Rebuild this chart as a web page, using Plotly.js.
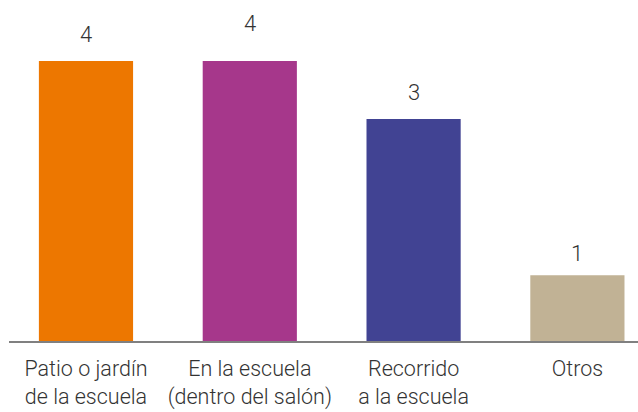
<!DOCTYPE html>
<html>
<head>
<meta charset="utf-8">
<script src="https://cdn.plot.ly/plotly-3.0.1.min.js"></script>
<style>html,body{margin:0;padding:0;background:#fff;}#chart{width:638px;height:412px;}</style>
</head>
<body>
<div id="chart"></div>
<script>
const categories = ["Patio o jardín<br>de la escuela", "En la escuela<br>(dentro del salón)", "Recorrido<br>a la escuela", "Otros"];
const values = [4, 4, 3.17, 0.94];
const labels = ["4", "4", "3", "1"];
const colors = ["#ED7700", "#A6378B", "#414393", "#C1B295"];
const labelShift = [12, 23, 12, 7];

const trace = {
  type: "bar",
  x: categories,
  y: values,
  marker: {color: colors},
  hoverinfo: "none"
};

const annotations = categories.map((c, i) => ({
  x: c, y: values[i], text: labels[i], showarrow: false,
  yanchor: "bottom", yshift: labelShift[i],
  font: {family: "Roboto, sans-serif", size: 22, color: "#333", weight: 300}
}));

const layout = {
  width: 638, height: 412,
  margin: {l: 9, r: 0, t: 0, b: 71},
  paper_bgcolor: "#fff", plot_bgcolor: "#fff",
  bargap: 0.425,
  showlegend: false,
  xaxis: {
    type: "category",
    range: [-0.47, 3.37],
    showline: true, linecolor: "#808080", linewidth: 2,
    showgrid: false, zeroline: false,
    ticks: "", ticklabelstandoff: 7,
    tickfont: {family: "Roboto, sans-serif", size: 21.5, color: "#333", weight: 300},
    fixedrange: true
  },
  yaxis: {
    range: [0, 4.871],
    visible: false, showgrid: false, zeroline: false,
    fixedrange: true
  },
  annotations: annotations
};

Plotly.newPlot("chart", [trace], layout, {displayModeBar: false, staticPlot: true});
</script>
</body>
</html>
